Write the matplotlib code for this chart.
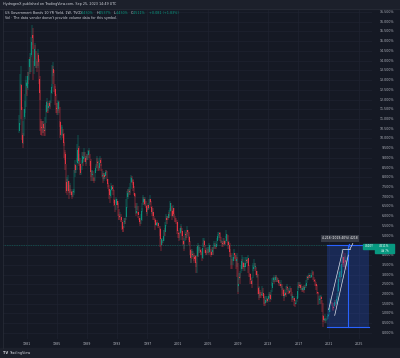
import numpy as np
import matplotlib.pyplot as plt
from matplotlib.patches import Rectangle
from matplotlib.transforms import blended_transform_factory

# Monthly candles, Jan 1980 .. Sep 2023
start_year = 1980
first_open = 10.40

closes = [
    10.80, 12.41, 12.75, 11.47, 10.18, 9.78, 10.25, 11.10, 11.51, 11.75, 12.68, 12.84,  # 1980
    12.57, 13.19, 13.12, 13.68, 14.10, 13.47, 14.28, 14.94, 15.32, 15.15, 13.39, 13.72,  # 1981
    14.59, 14.43, 13.86, 13.87, 13.62, 14.30, 13.95, 13.06, 12.34, 10.91, 10.55, 10.54,  # 1982
    10.46, 10.72, 10.51, 10.40, 10.38, 10.85, 11.38, 11.85, 11.65, 11.54, 11.69, 11.83,  # 1983
    11.67, 11.84, 12.32, 12.63, 13.41, 13.56, 13.36, 12.72, 12.52, 12.16, 11.57, 11.50,  # 1984
    11.38, 11.51, 11.86, 11.43, 10.85, 10.16, 10.31, 10.33, 10.37, 10.24, 9.78, 9.26,  # 1985
    9.19, 8.70, 7.78, 7.30, 7.71, 7.80, 7.30, 7.17, 7.45, 7.43, 7.25, 7.11,  # 1986
    7.08, 7.25, 7.25, 8.02, 8.61, 8.40, 8.45, 8.76, 9.42, 9.52, 8.86, 8.99,  # 1987
    8.67, 8.21, 8.37, 8.72, 9.09, 8.92, 9.06, 9.26, 8.98, 8.80, 8.96, 9.11,  # 1988
    9.09, 9.17, 9.36, 9.18, 8.86, 8.28, 8.02, 8.11, 8.19, 8.01, 7.87, 7.84,  # 1989
    8.21, 8.47, 8.59, 8.79, 8.76, 8.48, 8.47, 8.75, 8.89, 8.72, 8.39, 8.08,  # 1990
    8.09, 7.85, 8.11, 8.04, 8.07, 8.28, 8.27, 7.90, 7.65, 7.53, 7.42, 7.09,  # 1991
    7.03, 7.34, 7.54, 7.48, 7.39, 7.26, 6.84, 6.59, 6.42, 6.59, 6.87, 6.77,  # 1992
    6.60, 6.26, 5.98, 5.97, 6.04, 5.96, 5.81, 5.68, 5.36, 5.33, 5.72, 5.77,  # 1993
    5.75, 5.97, 6.48, 6.97, 7.18, 7.10, 7.30, 7.24, 7.46, 7.74, 7.96, 7.81,  # 1994
    7.78, 7.47, 7.20, 7.06, 6.63, 6.17, 6.28, 6.49, 6.20, 6.04, 5.93, 5.71,  # 1995
    5.65, 5.81, 6.27, 6.51, 6.74, 6.91, 6.87, 6.64, 6.83, 6.53, 6.20, 6.30,  # 1996
    6.58, 6.42, 6.69, 6.89, 6.71, 6.49, 6.22, 6.30, 6.21, 6.03, 5.88, 5.81,  # 1997
    5.54, 5.57, 5.65, 5.64, 5.65, 5.50, 5.46, 5.34, 4.81, 4.53, 4.83, 4.65,  # 1998
    4.72, 5.00, 5.23, 5.18, 5.54, 5.90, 5.79, 5.94, 5.92, 6.11, 6.03, 6.28,  # 1999
    6.66, 6.52, 6.26, 5.99, 6.44, 6.10, 6.05, 5.83, 5.80, 5.74, 5.72, 5.24,  # 2000
    5.16, 5.10, 4.89, 5.14, 5.39, 5.28, 5.24, 4.97, 4.73, 4.57, 4.65, 5.09,  # 2001
    5.04, 4.91, 5.28, 5.21, 5.16, 4.93, 4.65, 4.26, 3.87, 3.94, 4.05, 4.03,  # 2002
    4.05, 3.90, 3.81, 3.96, 3.57, 3.33, 3.98, 4.45, 4.27, 4.29, 4.30, 4.27,  # 2003
    4.15, 4.08, 3.83, 4.35, 4.72, 4.73, 4.50, 4.28, 4.13, 4.10, 4.19, 4.23,  # 2004
    4.22, 4.17, 4.50, 4.34, 4.14, 4.00, 4.18, 4.26, 4.20, 4.46, 4.54, 4.47,  # 2005
    4.42, 4.57, 4.72, 4.99, 5.11, 5.11, 5.09, 4.88, 4.72, 4.73, 4.60, 4.56,  # 2006
    4.76, 4.72, 4.56, 4.69, 4.75, 5.10, 5.00, 4.67, 4.52, 4.53, 4.15, 4.10,  # 2007
    3.74, 3.74, 3.51, 3.68, 3.88, 4.10, 4.01, 3.89, 3.69, 3.81, 3.53, 2.42,  # 2008
    2.52, 2.87, 2.82, 2.93, 3.29, 3.72, 3.56, 3.59, 3.40, 3.39, 3.40, 3.59,  # 2009
    3.73, 3.69, 3.73, 3.85, 3.42, 3.20, 3.01, 2.70, 2.65, 2.54, 2.76, 3.29,  # 2010
    3.39, 3.58, 3.41, 3.46, 3.17, 3.00, 3.00, 2.30, 1.98, 2.15, 2.01, 1.98,  # 2011
    1.97, 1.97, 2.17, 2.05, 1.80, 1.62, 1.53, 1.68, 1.72, 1.75, 1.65, 1.72,  # 2012
    1.91, 1.98, 1.96, 1.76, 1.93, 2.30, 2.58, 2.74, 2.81, 2.62, 2.72, 2.90,  # 2013
    2.86, 2.71, 2.72, 2.71, 2.56, 2.60, 2.54, 2.42, 2.53, 2.30, 2.33, 2.21,  # 2014
    1.88, 1.98, 2.04, 1.94, 2.20, 2.36, 2.32, 2.17, 2.17, 2.07, 2.26, 2.24,  # 2015
    2.09, 1.78, 1.89, 1.81, 1.81, 1.64, 1.50, 1.56, 1.63, 1.76, 2.14, 2.49,  # 2016
    2.43, 2.42, 2.48, 2.30, 2.30, 2.19, 2.32, 2.21, 2.20, 2.36, 2.35, 2.40,  # 2017
    2.58, 2.86, 2.84, 2.87, 2.98, 2.91, 2.89, 2.89, 3.00, 3.15, 3.12, 2.83,  # 2018
    2.71, 2.68, 2.57, 2.53, 2.40, 2.07, 2.06, 1.63, 1.70, 1.71, 1.81, 1.86,  # 2019
    1.76, 1.50, 0.87, 0.66, 0.67, 0.73, 0.62, 0.65, 0.68, 0.79, 0.87, 0.93,  # 2020
    1.08, 1.26, 1.61, 1.64, 1.62, 1.52, 1.32, 1.28, 1.37, 1.58, 1.56, 1.47,  # 2021
    1.76, 1.93, 2.13, 2.75, 2.90, 3.14, 2.90, 2.90, 3.52, 3.98, 3.89, 3.62,  # 2022
    3.53, 3.75, 3.66, 3.46, 3.57, 3.75, 3.90, 4.17, 4.511,  # 2023
]

highs = [
    11.2, 13.3, 13.7, 12.8, 11.6, 10.3, 10.9, 11.5, 11.9, 12.3, 13.0, 13.2,  # 1980
    12.9, 13.4, 13.4, 14.1, 14.4, 14.2, 14.4, 15.2, 15.84, 15.7, 15.3, 14.0,  # 1981
    14.9, 14.8, 14.5, 14.1, 14.0, 14.6, 14.4, 14.1, 13.2, 12.5, 11.0, 10.9,  # 1982
    10.9, 10.9, 10.9, 10.6, 10.8, 11.1, 11.7, 12.1, 11.9, 11.8, 11.8, 11.9,  # 1983
    11.9, 12.0, 12.5, 12.8, 13.8, 13.95, 13.7, 13.5, 12.8, 12.7, 12.3, 11.8,  # 1984
    11.8, 11.9, 12.0, 11.9, 11.6, 10.9, 10.7, 10.7, 10.6, 10.5, 10.3, 9.8,  # 1985
    9.4, 9.3, 8.7, 7.9, 8.0, 8.1, 7.8, 7.4, 7.7, 7.6, 7.4, 7.3,  # 1986
    7.3, 7.4, 7.4, 8.4, 8.9, 8.7, 8.6, 9.0, 9.7, 10.2, 9.6, 9.2,  # 1987
    9.0, 8.7, 8.6, 8.9, 9.3, 9.3, 9.3, 9.5, 9.3, 9.1, 9.1, 9.2,  # 1988
    9.2, 9.4, 9.5, 9.4, 9.2, 8.95, 8.3, 8.4, 8.4, 8.3, 8.0, 7.95,  # 1989
    8.4, 8.6, 8.7, 9.1, 9.0, 8.85, 8.6, 9.0, 9.1, 9.0, 8.7, 8.45,  # 1990
    8.3, 8.2, 8.2, 8.2, 8.2, 8.4, 8.4, 8.35, 7.9, 7.7, 7.6, 7.4,  # 1991
    7.3, 7.4, 7.7, 7.6, 7.6, 7.4, 7.35, 6.9, 6.6, 6.9, 7.0, 6.9,  # 1992
    6.8, 6.7, 6.35, 6.1, 6.2, 6.1, 5.9, 5.8, 5.5, 5.5, 5.9, 5.9,  # 1993
    5.9, 6.2, 6.9, 7.3, 7.4, 7.4, 7.5, 7.4, 7.7, 8.0, 8.1, 8.05,  # 1994
    7.9, 7.85, 7.55, 7.2, 7.15, 6.7, 6.5, 6.7, 6.55, 6.2, 6.0, 5.9,  # 1995
    5.8, 6.1, 6.4, 6.7, 7.0, 7.1, 7.0, 6.9, 7.0, 6.8, 6.6, 6.4,  # 1996
    6.7, 6.6, 6.9, 7.1, 6.9, 6.8, 6.55, 6.4, 6.4, 6.2, 6.0, 5.9,  # 1997
    5.85, 5.7, 5.7, 5.8, 5.7, 5.6, 5.5, 5.5, 5.4, 4.9, 4.9, 4.8,  # 1998
    4.8, 5.3, 5.3, 5.4, 5.7, 6.1, 6.0, 6.0, 6.0, 6.3, 6.2, 6.4,  # 1999
    6.8, 6.7, 6.5, 6.3, 6.6, 6.4, 6.1, 6.0, 5.9, 5.9, 5.8, 5.5,  # 2000
    5.3, 5.2, 5.15, 5.4, 5.6, 5.5, 5.4, 5.1, 5.0, 4.7, 4.9, 5.3,  # 2001
    5.2, 5.1, 5.5, 5.3, 5.3, 5.2, 5.0, 4.7, 4.3, 4.2, 4.3, 4.2,  # 2002
    4.2, 4.1, 4.0, 4.0, 4.0, 3.65, 4.4, 4.6, 4.5, 4.4, 4.5, 4.4,  # 2003
    4.3, 4.2, 4.15, 4.6, 4.9, 4.9, 4.8, 4.5, 4.35, 4.2, 4.4, 4.4,  # 2004
    4.3, 4.4, 4.6, 4.5, 4.3, 4.2, 4.4, 4.4, 4.4, 4.6, 4.7, 4.6,  # 2005
    4.5, 4.7, 4.9, 5.1, 5.2, 5.2, 5.2, 5.15, 4.95, 4.8, 4.7, 4.7,  # 2006
    4.9, 4.9, 4.7, 4.8, 5.0, 5.3, 5.1, 5.05, 4.7, 4.7, 4.6, 4.3,  # 2007
    4.1, 4.0, 3.8, 3.9, 4.1, 4.3, 4.1, 4.0, 4.0, 4.1, 3.9, 3.6,  # 2008
    2.9, 3.1, 3.1, 3.2, 3.5, 4.0, 3.8, 3.9, 3.65, 3.6, 3.6, 3.9,  # 2009
    3.9, 3.8, 3.9, 4.0, 3.8, 3.5, 3.1, 3.05, 2.8, 2.7, 2.9, 3.6,  # 2010
    3.5, 3.8, 3.6, 3.6, 3.4, 3.2, 3.2, 3.05, 2.35, 2.4, 2.2, 2.1,  # 2011
    2.1, 2.1, 2.4, 2.3, 2.0, 1.85, 1.6, 1.9, 1.9, 1.9, 1.8, 1.8,  # 2012
    2.0, 2.1, 2.1, 2.0, 2.2, 2.6, 2.8, 2.9, 3.0, 2.85, 2.8, 3.0,  # 2013
    3.0, 2.9, 2.8, 2.8, 2.7, 2.7, 2.6, 2.5, 2.7, 2.5, 2.4, 2.3,  # 2014
    2.25, 2.1, 2.2, 2.1, 2.4, 2.5, 2.4, 2.3, 2.3, 2.2, 2.4, 2.3,  # 2015
    2.3, 2.1, 2.0, 1.9, 1.9, 1.8, 1.7, 1.6, 1.7, 1.9, 2.4, 2.6,  # 2016
    2.6, 2.5, 2.6, 2.5, 2.4, 2.3, 2.4, 2.4, 2.35, 2.45, 2.45, 2.5,  # 2017
    2.7, 2.95, 2.95, 3.0, 3.1, 3.0, 3.0, 3.0, 3.1, 3.25, 3.2, 3.15,  # 2018
    2.85, 2.75, 2.65, 2.6, 2.5, 2.45, 2.1, 2.1, 1.9, 1.8, 1.95, 1.95,  # 2019
    1.9, 1.7, 1.55, 0.9, 0.75, 0.95, 0.75, 0.75, 0.7, 0.89, 0.98, 0.96,  # 2020
    1.2, 1.6, 1.77, 1.75, 1.7, 1.6, 1.55, 1.38, 1.55, 1.7, 1.7, 1.6,  # 2021
    1.9, 2.05, 2.5, 2.95, 3.2, 3.5, 3.2, 3.2, 4.0, 4.33, 4.2, 3.9,  # 2022
    3.9, 3.98, 4.09, 3.7, 3.86, 3.9, 4.1, 4.36, 4.537,  # 2023
]

lows = [
    10.3, 10.7, 12.0, 11.0, 9.9, 9.5, 9.7, 10.1, 11.0, 11.3, 11.6, 12.3,  # 1980
    12.2, 12.5, 12.8, 13.0, 13.4, 13.3, 13.4, 14.2, 14.8, 14.6, 13.0, 13.3,  # 1981
    13.7, 14.1, 13.6, 13.6, 13.4, 13.6, 13.7, 12.8, 12.0, 10.4, 10.2, 10.2,  # 1982
    10.1, 10.3, 10.3, 10.1, 10.1, 10.4, 10.8, 11.4, 11.3, 11.3, 11.4, 11.6,  # 1983
    11.5, 11.6, 11.8, 12.3, 12.6, 13.2, 12.8, 12.4, 12.3, 11.7, 11.3, 11.3,  # 1984
    11.2, 11.2, 11.4, 11.3, 10.6, 10.0, 9.9, 10.1, 10.2, 10.0, 9.6, 9.0,  # 1985
    8.9, 8.4, 7.2, 7.1, 7.3, 7.3, 7.2, 6.9, 7.1, 7.2, 7.1, 7.0,  # 1986
    6.9, 7.0, 7.1, 7.2, 8.0, 8.2, 8.2, 8.4, 8.8, 8.7, 8.6, 8.7,  # 1987
    8.4, 8.1, 8.1, 8.4, 8.7, 8.6, 8.8, 9.0, 8.8, 8.6, 8.7, 8.9,  # 1988
    8.9, 8.9, 9.2, 9.0, 8.6, 8.0, 7.8, 7.8, 8.1, 7.8, 7.8, 7.7,  # 1989
    7.8, 8.3, 8.5, 8.6, 8.5, 8.3, 8.3, 8.4, 8.7, 8.6, 8.3, 8.0,  # 1990
    7.9, 7.7, 7.8, 7.9, 7.9, 8.1, 8.2, 7.8, 7.5, 7.4, 7.3, 6.9,  # 1991
    6.7, 6.95, 7.3, 7.4, 7.3, 7.1, 6.7, 6.5, 6.2, 6.3, 6.7, 6.6,  # 1992
    6.4, 6.0, 5.8, 5.8, 5.9, 5.7, 5.7, 5.3, 5.2, 5.2, 5.4, 5.6,  # 1993
    5.6, 5.8, 6.2, 6.4, 6.9, 7.0, 7.1, 7.1, 7.2, 7.4, 7.7, 7.7,  # 1994
    7.6, 7.3, 7.1, 7.0, 6.4, 6.0, 6.1, 6.3, 6.1, 5.9, 5.8, 5.6,  # 1995
    5.5, 5.6, 5.75, 6.2, 6.6, 6.7, 6.6, 6.5, 6.6, 6.4, 6.0, 6.1,  # 1996
    6.3, 6.3, 6.35, 6.7, 6.6, 6.4, 6.0, 6.1, 6.0, 5.8, 5.8, 5.7,  # 1997
    5.3, 5.5, 5.5, 5.6, 5.5, 5.4, 5.4, 5.0, 4.4, 4.2, 4.6, 4.5,  # 1998
    4.6, 4.7, 5.0, 5.0, 5.3, 5.5, 5.6, 5.8, 5.8, 5.9, 5.9, 6.0,  # 1999
    6.2, 6.3, 6.0, 5.8, 5.95, 6.0, 5.9, 5.7, 5.7, 5.6, 5.5, 5.1,  # 2000
    4.9, 4.9, 4.7, 4.8, 5.2, 5.1, 5.0, 4.8, 4.5, 4.2, 4.3, 4.7,  # 2001
    4.9, 4.8, 4.9, 5.1, 5.0, 4.8, 4.5, 4.0, 3.6, 3.6, 3.9, 3.8,  # 2002
    3.9, 3.7, 3.6, 3.8, 3.4, 3.1, 3.1, 3.9, 3.9, 4.1, 4.2, 4.1,  # 2003
    4.0, 4.0, 3.7, 3.8, 4.4, 4.6, 4.4, 4.1, 4.0, 4.0, 4.0, 4.1,  # 2004
    4.1, 4.0, 4.1, 4.2, 4.0, 3.9, 4.0, 4.0, 4.0, 4.3, 4.4, 4.3,  # 2005
    4.3, 4.4, 4.5, 4.8, 5.0, 4.9, 4.9, 4.7, 4.6, 4.6, 4.4, 4.4,  # 2006
    4.5, 4.5, 4.5, 4.5, 4.6, 4.9, 4.7, 4.5, 4.3, 4.3, 3.9, 3.9,  # 2007
    3.3, 3.5, 3.3, 3.5, 3.7, 3.85, 3.8, 3.7, 3.3, 3.4, 2.9, 2.0,  # 2008
    2.1, 2.7, 2.5, 2.8, 3.1, 3.2, 3.3, 3.4, 3.3, 3.2, 3.2, 3.4,  # 2009
    3.55, 3.6, 3.6, 3.6, 3.1, 2.9, 2.9, 2.5, 2.5, 2.3, 2.5, 2.8,  # 2010
    3.2, 3.4, 3.2, 3.3, 3.0, 2.9, 2.8, 2.0, 1.7, 1.8, 1.9, 1.8,  # 2011
    1.8, 1.9, 1.9, 1.9, 1.5, 1.4, 1.38, 1.5, 1.6, 1.6, 1.55, 1.6,  # 2012
    1.7, 1.8, 1.8, 1.6, 1.7, 2.1, 2.4, 2.6, 2.6, 2.5, 2.6, 2.8,  # 2013
    2.6, 2.6, 2.6, 2.6, 2.4, 2.5, 2.4, 2.3, 2.4, 1.9, 2.2, 2.0,  # 2014
    1.65, 1.8, 1.9, 1.85, 2.0, 2.1, 2.2, 2.0, 2.0, 2.0, 2.1, 2.1,  # 2015
    1.9, 1.6, 1.7, 1.7, 1.7, 1.4, 1.32, 1.5, 1.5, 1.6, 1.8, 2.2,  # 2016
    2.3, 2.3, 2.3, 2.2, 2.2, 2.1, 2.15, 2.1, 2.03, 2.2, 2.3, 2.3,  # 2017
    2.4, 2.55, 2.7, 2.7, 2.8, 2.8, 2.8, 2.8, 2.8, 3.0, 3.0, 2.7,  # 2018
    2.6, 2.6, 2.4, 2.4, 2.2, 2.0, 2.0, 1.45, 1.5, 1.5, 1.7, 1.75,  # 2019
    1.5, 1.1, 0.32, 0.55, 0.6, 0.6, 0.52, 0.5, 0.63, 0.65, 0.7, 0.83,  # 2020
    0.9, 1.05, 1.4, 1.55, 1.5, 1.4, 1.13, 1.17, 1.26, 1.45, 1.42, 1.35,  # 2021
    1.45, 1.7, 1.7, 2.1, 2.7, 2.8, 2.6, 2.55, 3.1, 3.6, 3.5, 3.4,  # 2022
    3.37, 3.4, 3.3, 3.25, 3.4, 3.6, 3.72, 3.95, 4.1,  # 2023
]

year_ticks = [1981, 1985, 1989, 1993, 1997, 2001, 2005, 2009, 2013, 2017, 2021, 2025]
price_ticks = np.arange(0, 16.51, 0.5)

title_txt = "HydrogenX published on TradingView.com, Sep 25, 2023 14:49 UTC"
symbol_txt = "US Government Bonds 10 YR Yield, 1W, TVC"
ohlc_txt = [("O", "4.430%"), ("H", "4.537%"), ("L", "4.430%"), ("C", "4.511%")]
change_txt = "+0.081 (+1.83%)"
vol_txt = "Vol \u00b7 The data vendor doesn't provide volume data for this symbol."
range_txt = "4.218 (1019.40%) 4218"

# colours
BG = '#151924'
BAR = '#1c202b'
GRID = '#1f2330'
TXT = '#b2b5be'
UP = '#089981'
DOWN = '#f23645'
BLUE = '#2962ff'

W, H = 400, 358


def fx(p):
    return p / W


def fy(p):
    return 1 - p / H


fig = plt.figure(figsize=(4, 3.58), dpi=100, facecolor=BG)

# header and footer strips
fig.patches.append(Rectangle((0, fy(8.5)), 1, 8.5 / H, transform=fig.transFigure,
                             color=BAR, zorder=0))
fig.patches.append(Rectangle((0, 0), 1, 10 / H, transform=fig.transFigure,
                             color=BAR, zorder=0))

ax = fig.add_axes([fx(3), fy(339), (372 - 3) / W, (339 - 9) / H])
ax.set_facecolor(BG)
ax.set_xlim(1977.86, 2026.74)
ax.set_ylim(-0.313, 16.654)
ax.set_xticks([])
ax.set_yticks([])
for s in ax.spines.values():
    s.set_visible(False)

# grid
for p in price_ticks:
    ax.axhline(p, color=GRID, lw=0.5, zorder=0)
for yr in year_ticks:
    ax.axvline(yr, color=GRID, lw=0.5, zorder=0)

# candles
c = np.array(closes)
hi = np.array(highs)
lo = np.array(lows)
o = np.r_[first_open, c[:-1]]
t = start_year + (np.arange(len(c)) + 0.5) / 12
cols = np.where(c >= o, UP, DOWN)
ax.vlines(t, lo, hi, colors=cols, lw=0.35, alpha=0.9, zorder=2)
ax.bar(t, np.maximum(np.abs(c - o), 0.03), bottom=np.minimum(o, c), width=0.05,
       color=cols, lw=0, alpha=0.9, zorder=2)

# last price line
ax.axhline(c[-1], color=UP, lw=0.5, ls=(0, (1, 1.5)), alpha=0.7, zorder=1)

# date & price range box
ax.add_patch(Rectangle((2020.78, 0.32), 2026.34 - 2020.78, 4.50 - 0.32,
                       facecolor=BLUE, alpha=0.22, lw=0, zorder=3))
ax.plot([2020.78, 2026.34], [0.32, 0.32], color=BLUE, lw=0.8, zorder=4)
ax.plot([2020.78, 2026.34], [4.50, 4.50], color=BLUE, lw=0.8, zorder=4)
ax.plot([2023.5, 2023.5], [0.32, 4.45], color=BLUE, lw=0.8, zorder=4)
ax.annotate('', xy=(2023.75, 4.75), xytext=(2023.75, 4.3),
            arrowprops=dict(arrowstyle='-|>', color=BLUE, lw=0.6,
                            mutation_scale=3), zorder=5)

# parallel channel
ax.plot([2021.0, 2022.9], [1.2, 4.3], color='#e0e3eb', lw=0.5, zorder=5)
ax.plot([2021.8, 2023.6], [0.9, 4.0], color='#e0e3eb', lw=0.5, zorder=5)
ax.plot([2022.9, 2023.8], [4.3, 4.3], color='#e0e3eb', lw=0.5, zorder=5)
ax.plot([2023.8, 2024.2], [4.3, 4.6], color='#e0e3eb', lw=0.5, zorder=5)

ax.text(2022.5, 4.855, range_txt, fontsize=2.2, color='white', ha='center',
        va='center', zorder=6,
        bbox=dict(boxstyle='square,pad=0.35', fc='#363a45', ec='none'))

# price scale labels (the one under the live price tag is hidden, as on the chart)
tr_y = blended_transform_factory(fig.transFigure, ax.transData)
for p in price_ticks:
    if abs(p - c[-1]) < 0.3:
        continue
    ax.text(fx(394), p, f'{p:.3f}%', transform=tr_y, ha='right', va='center',
            fontsize=2.3, color=TXT, clip_on=False)

# time scale labels
tr_x = blended_transform_factory(ax.transData, fig.transFigure)
for yr in year_ticks:
    ax.text(yr, fy(344), str(yr), transform=tr_x, ha='center', va='center',
            fontsize=2.3, color=TXT, clip_on=False)

# symbol and price tags on the scale
fig.patches.append(Rectangle((fx(363), fy(248.5)), 12 / W, 5 / H,
                             transform=fig.transFigure, color=UP, zorder=5))
fig.text(fx(369), fy(246), "US10Y", fontsize=2.0, color='white',
         ha='center', va='center', zorder=6)
fig.patches.append(Rectangle((fx(375), fy(253)), 19 / W, 9.5 / H,
                             transform=fig.transFigure, color=UP, zorder=5))
fig.text(fx(384.5), fy(245.6), "4.511%", fontsize=2.0, color='white',
         ha='center', va='center', zorder=6)
fig.text(fx(384.5), fy(250.6), "4d 7h", fontsize=1.9, color='white',
         ha='center', va='center', zorder=6)

# header texts
fig.text(fx(3), fy(4.5), title_txt, fontsize=2.4, color='#d1d4dc', va='center')
fig.text(fx(5), fy(13.2), symbol_txt, fontsize=2.4, color='#d1d4dc', va='center')
xs = [79, 97, 114, 131]
for (k, v), xp in zip(ohlc_txt, xs):
    fig.text(fx(xp), fy(13.2), k, fontsize=2.4, color='#d1d4dc', va='center')
    fig.text(fx(xp + 2.3), fy(13.2), v, fontsize=2.4, color=UP, va='center')
fig.text(fx(149), fy(13.2), change_txt, fontsize=2.4, color=UP, va='center')
fig.text(fx(5), fy(17.6), vol_txt, fontsize=2.4, color='#d1d4dc', va='center')

# frame lines
fig.add_artist(plt.Line2D([fx(3), fx(3)], [fy(9), fy(348)], color='#2a2e39', lw=0.5))
fig.add_artist(plt.Line2D([0, 1], [fy(8.5), fy(8.5)], color='#2a2e39', lw=0.5))

# footer logo
fig.text(fx(3), fy(353), "TV", fontsize=2.6, color='#d1d4dc', va='center',
         weight='bold')
fig.text(fx(9), fy(353), "TradingView", fontsize=2.5, color='#d1d4dc', va='center')

fig.savefig('out.png', dpi=100, facecolor=BG)
